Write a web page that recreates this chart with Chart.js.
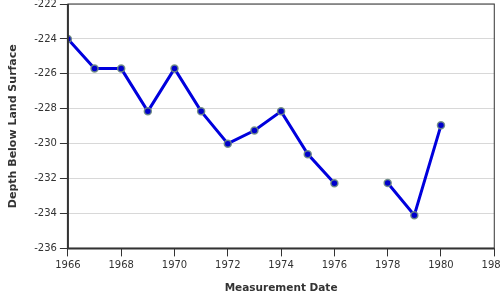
<!DOCTYPE html>
<html>
<head>
<meta charset="utf-8">
<script src="https://cdn.jsdelivr.net/npm/chart.js@4"></script>
<style>
  html, body { margin: 0; padding: 0; overflow: hidden; background: #fff; }
  #wrap { width: 510px; height: 305px; margin-top: -5px; }
</style>
</head>
<body>
<div id="wrap"><canvas id="depthChart" width="510" height="305"></canvas></div>
<script>
// measurement years, null value = no reading that year
const years = [1966, 1967, 1968, 1969, 1970, 1971, 1972, 1973, 1974, 1975, 1976, 1977, 1978, 1979, 1980];
const depths = [-224.0, -225.7, -225.7, -228.15, -225.7, -228.15, -230.0, -229.25, -228.15, -230.6, -232.27, null, -232.25, -234.1, -228.95];

const yTicks = [-236, -234, -232, -230, -228, -226, -224, -222];
const xTicks = [1966, 1968, 1970, 1972, 1974, 1976, 1978, 1980, 1982];

const points = years.map((yr, i) => ({ x: yr, y: depths[i] }));

const ctx = document.getElementById("depthChart").getContext("2d");

// draws the dark frame round the plot area
const frame = {
  id: "frame",
  afterDatasetsDraw(chart) {
    const a = chart.chartArea;
    const c = chart.ctx;
    c.save();
    c.strokeStyle = "#333";
    c.lineWidth = 1;
    c.strokeRect(a.left, a.top, a.right - a.left, a.bottom - a.top);
    c.lineWidth = 2;
    c.beginPath();
    c.moveTo(a.left, a.top);
    c.lineTo(a.left, a.bottom);
    c.lineTo(a.right, a.bottom);
    c.stroke();
    c.restore();
  },
};

Chart.defaults.font.family = "'DejaVu Sans', Verdana, sans-serif";

new Chart(ctx, {
  type: "line",
  data: {
    datasets: [
      {
        data: points,
        borderColor: "#0000dd",
        borderWidth: 3,
        backgroundColor: "#0000cc",
        pointBorderColor: "rgba(110, 140, 130, 0.9)",
        pointBorderWidth: 1.5,
        pointRadius: 3.5,
        spanGaps: false,
        tension: 0,
      },
    ],
  },
  options: {
    responsive: false,
    animation: false,
    layout: { padding: { top: 0, left: 7, right: 0, bottom: 5 } },
    plugins: {
      legend: { display: false },
      tooltip: { enabled: false },
    },
    scales: {
      x: {
        type: "linear",
        min: 1966,
        max: 1982,
        afterBuildTicks: (axis) => { axis.ticks = xTicks.map((v) => ({ value: v })); },
        ticks: {
          color: "#333",
          font: { size: 10 },
          maxRotation: 0,
          callback: (v) => String(v),
        },
        grid: {
          drawOnChartArea: false,
          drawTicks: true,
          tickLength: 8,
          tickColor: "#333",
          tickWidth: 1,
        },
        border: { display: false },
        title: {
          display: true,
          text: "Measurement Date",
          color: "#333",
          font: { size: 10.5, weight: "bold" },
          padding: { top: 8, bottom: 0 },
        },
      },
      y: {
        min: -236,
        max: -222,
        afterBuildTicks: (axis) => { axis.ticks = yTicks.map((v) => ({ value: v })); },
        ticks: {
          color: "#333",
          font: { size: 10 },
          padding: 3,
        },
        grid: {
          color: "#d8d8d8",
          lineWidth: 1,
          tickLength: 8,
          tickColor: "#333",
        },
        border: { display: false },
        title: {
          display: true,
          text: "Depth Below Land Surface",
          color: "#333",
          font: { size: 11, weight: "bold" },
          padding: { top: 0, bottom: 11 },
        },
      },
    },
  },
  plugins: [frame],
});
</script>
</body>
</html>
